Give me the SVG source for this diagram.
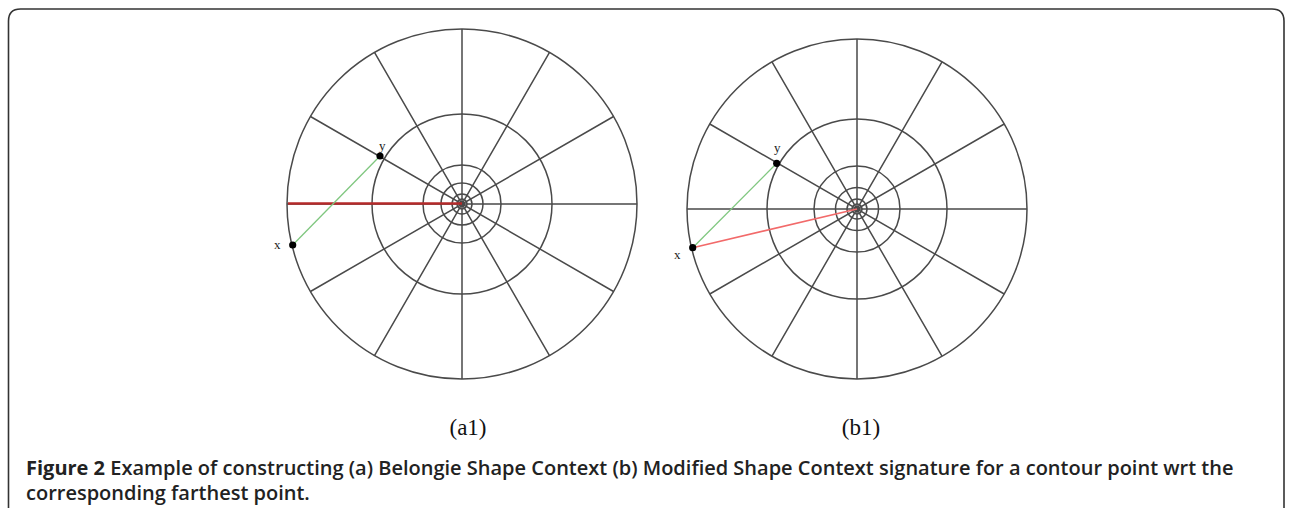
<svg xmlns="http://www.w3.org/2000/svg" width="1292" height="508" viewBox="0 0 1292 508">
<style>
.grid{fill:none;stroke:#4a4a4a;stroke-width:1.5}
.dot{fill:#000}
.lbl{font-family:"Liberation Serif",serif;font-size:13px;fill:#222}
.sub{font-family:"Liberation Serif",serif;font-size:23px;fill:#111;text-anchor:middle}
.cap{font-family:"Open Sans","Liberation Sans",sans-serif;font-size:20px;fill:#222;font-weight:600}
</style>
<rect width="1292" height="508" fill="#fff"/>
<path d="M8.5,520 V21 Q8.5,9 20.5,9 H1272 Q1284,9 1284,21 V520" fill="none" stroke="#333" stroke-width="1.6"/>
<g id="diagram-a1">
<circle class="grid" cx="462" cy="204" r="175"/>
<circle class="grid" cx="462" cy="204" r="90"/>
<circle class="grid" cx="462" cy="204" r="39"/>
<circle class="grid" cx="462" cy="204" r="21"/>
<circle class="grid" cx="462" cy="204" r="10"/>
<circle class="grid" cx="462" cy="204" r="5"/>
<path class="grid" d="M287,204H637M310.45,116.5L613.55,291.5M374.5,52.45L549.5,355.55M462,29V379M549.5,52.45L374.5,355.55M613.55,116.5L310.45,291.5"/>
</g>
<g id="diagram-b1">
<circle class="grid" cx="857" cy="209" r="170"/>
<circle class="grid" cx="857" cy="209" r="90"/>
<circle class="grid" cx="857" cy="209" r="43"/>
<circle class="grid" cx="857" cy="209" r="21.5"/>
<circle class="grid" cx="857" cy="209" r="10"/>
<circle class="grid" cx="857" cy="209" r="5"/>
<path class="grid" d="M687,209H1027M709.78,124L1004.22,294M772,61.78L942,356.22M857,39V379M942,61.78L772,356.22M1004.22,124L709.78,294"/>
</g>
<g id="connectors">
<line x1="288" y1="203.5" x2="462" y2="203.5" stroke="#b52a2a" stroke-width="2.6"/>
<line x1="292.7" y1="245" x2="380" y2="156" stroke="#7fc77f" stroke-width="1.3"/>
<line x1="692.7" y1="247.7" x2="857" y2="209" stroke="#f26a6a" stroke-width="1.6"/>
<line x1="692.7" y1="247.7" x2="776.7" y2="163.3" stroke="#7fc77f" stroke-width="1.3"/>
</g>
<g id="point-y-a">
<circle class="dot" cx="380" cy="156" r="3.6"/>
<text class="lbl" x="379" y="150">y</text>
</g>
<g id="point-x-a">
<circle class="dot" cx="292.7" cy="245" r="3.6"/>
<text class="lbl" x="274" y="249">x</text>
</g>
<g id="point-y-b">
<circle class="dot" cx="776.7" cy="163.3" r="3.6"/>
<text class="lbl" x="774" y="152">y</text>
</g>
<g id="point-x-b">
<circle class="dot" cx="692.7" cy="247.7" r="3.6"/>
<text class="lbl" x="674" y="259">x</text>
</g>
<text class="sub" x="468" y="435">(a1)</text>
<text class="sub" x="861" y="435">(b1)</text>
<text class="cap" x="26" y="475"><tspan font-weight="700">Figure 2</tspan> Example of constructing (a) Belongie Shape Context (b) Modified Shape Context signature for a contour point wrt the</text>
<text class="cap" x="26" y="500">corresponding farthest point.</text>
</svg>
